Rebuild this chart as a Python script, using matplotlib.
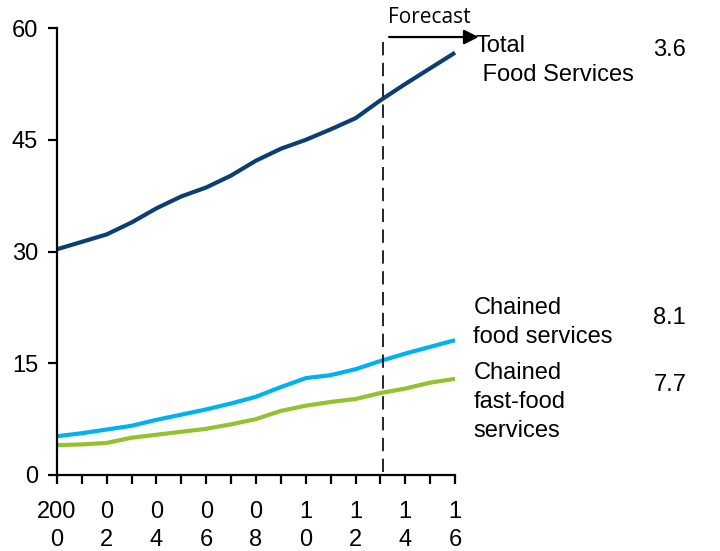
import matplotlib
matplotlib.use("Agg")
import matplotlib.pyplot as plt

plt.rcParams['font.family'] = ['Liberation Sans', 'DejaVu Sans']

years = list(range(2000, 2017))
total_food_services = [30.3, 31.3, 32.3, 33.9, 35.8, 37.4, 38.6, 40.2, 42.2, 43.8,
                       45.0, 46.4, 47.9, 50.3, 52.5, 54.6, 56.7]
chained_food_services = [5.2, 5.6, 6.1, 6.6, 7.4, 8.1, 8.8, 9.6, 10.5, 11.8,
                         13.0, 13.4, 14.2, 15.3, 16.3, 17.2, 18.1]
chained_fast_food = [4.0, 4.1, 4.3, 5.0, 5.4, 5.8, 6.2, 6.8, 7.5, 8.6,
                     9.3, 9.8, 10.2, 11.0, 11.6, 12.4, 12.9]

series_names = ["Total\n Food Services", "Chained\nfood services", "Chained\nfast-food\nservices"]
growth_rates = ["3.6", "8.1", "7.7"]
colors = ["#0b3f74", "#00b0f0", "#93c12f"]

x_tick_labels = ["200\n0", "", "0\n2", "", "0\n4", "", "0\n6", "", "0\n8", "",
                 "1\n0", "", "1\n2", "", "1\n4", "", "1\n6"]
y_ticks = [0, 15, 30, 45, 60]
forecast_start = 2013.1

fig = plt.figure(figsize=(7.2, 5.51), dpi=100)
ax = fig.add_axes([0.079, 0.138, 0.553, 0.811])

for vals, c in zip([total_food_services, chained_food_services, chained_fast_food], colors):
    ax.plot(years, vals, color=c, lw=3, solid_capstyle='butt', clip_on=False)

ax.set_xlim(2000, 2016)
ax.set_ylim(0, 60)
ax.set_yticks(y_ticks)
ax.set_xticks(years)
ax.set_xticklabels(x_tick_labels, linespacing=1.38)

for s in ['top', 'right']:
    ax.spines[s].set_visible(False)
for s in ['left', 'bottom']:
    ax.spines[s].set_linewidth(1.6)
ax.tick_params(axis='both', direction='out', length=6.5, width=1.6, labelsize=17)
ax.tick_params(axis='x', pad=12)
ax.tick_params(axis='y', pad=7)

# forecast divider and arrow
ax.plot([forecast_start, forecast_start], [0.4, 58.8], color='black', lw=1.2,
        dashes=(8, 4.5), clip_on=False)
ax.annotate("", xy=(2016.95, 58.8), xytext=(2013.35, 58.8), xycoords='data',
            arrowprops=dict(arrowstyle='-|>', color='black', lw=1.6,
                            mutation_scale=22, shrinkA=0, shrinkB=0),
            annotation_clip=False)
ax.text(2014.95, 61.4, "Forecast", ha='center', va='center', fontsize=15,
        family=['Open Sans', 'DejaVu Sans'], clip_on=False)

# series labels and growth rates
label_pos = [(2016.84, 59.06), (2016.74, 23.93), (2016.74, 15.2)]
rate_pos = [57.0, 21.14, 12.08]
for name, (lx, ly), rate, ry in zip(series_names, label_pos, growth_rates, rate_pos):
    ax.text(lx, ly, name, ha='left', va='top', fontsize=17, linespacing=1.43,
            clip_on=False)
    ax.text(2023.97, ry, rate, ha='left', va='center', fontsize=17, clip_on=False)

fig.savefig("out.png", dpi=100)
